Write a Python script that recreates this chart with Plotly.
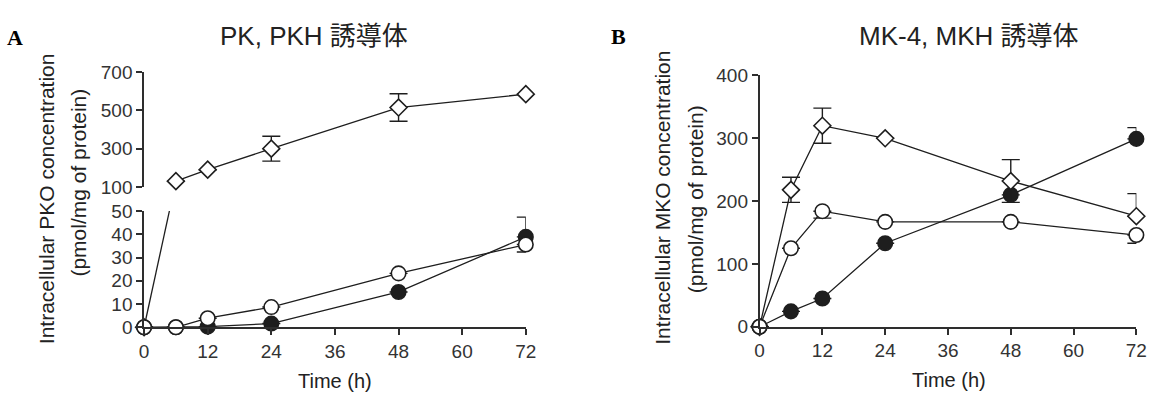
import plotly.graph_objects as go

# ---------------- data ----------------
time_h = [0, 6, 12, 24, 48, 72]
x_ticks = [0, 12, 24, 36, 48, 60, 72]

# Panel A (PK, PKH derivatives)
A_diamond = [0, 130, 190, 300, 515, 585]
A_diamond_err_plus = [None, None, None, 65, 72, None]
A_diamond_err_minus = [None, None, None, 65, 72, None]
A_filled = [0, 0, 0.3, 1.6, 15.2, 38.9]
A_filled_err_plus = [None, None, None, None, None, 8.5]
A_filled_err_minus = [None, None, None, None, None, 0]
A_open = [0, 0, 3.9, 8.7, 23.2, 35.6]
A_open_err_plus = [None, None, None, None, None, 0]
A_open_err_minus = [None, None, None, None, None, 3.2]
A_top_ticks = [100, 300, 500, 700]
A_bot_ticks = [0, 10, 20, 30, 40, 50]
A_top_range = [100, 700]
A_bot_range = [0, 50]

# Panel B (MK-4, MKH derivatives)
B_diamond = [0, 218, 320, 300, 232, 176]
B_diamond_err_plus = [None, 20, 28, None, 34, 36]
B_diamond_err_minus = [None, 20, 28, None, 34, 0]
B_filled = [0, 24.6, 45, 133, 210, 299]
B_filled_err_plus = [None, None, None, None, None, 18]
B_filled_err_minus = [None, None, None, None, None, 0]
B_open = [0, 125, 184, 167, 167, 146]
B_open_err_plus = [None, None, 0, None, None, 0]
B_open_err_minus = [None, None, 11, None, None, 13]
B_ticks = [0, 100, 200, 300, 400]
B_range = [0, 400]

title_A = "PK, PKH 誘導体"
title_B = "MK-4, MKH 誘導体"
ytitle_A = ["Intracellular PKO concentration", "(pmol/mg of protein)"]
ytitle_B = ["Intracellular MKO concentration", "(pmol/mg of protein)"]
xtitle = "Time (h)"

# ---------------- layout geometry ----------------
W, H = 1174, 408
def fx(p):
    return p / W
def fy(p):
    return 1 - p / H

A_x_dom = [fx(141), fx(528)]
A_bot_dom = [fy(334.5), fy(212)]
A_top_dom = [fy(186.5), fy(65.5)]
B_x_dom = [fx(765), fx(1147)]
B_y_dom = [fy(334), fy(69)]

INK = "#1e1e1e"
AXC = "#2e2e2e"
FONT = "Liberation Sans, Arial, Noto Sans CJK JP, sans-serif"

fig = go.Figure()

def err(plus, minus):
    return dict(type="data", symmetric=False, array=plus, arrayminus=minus,
                color=INK, thickness=1.4, width=9)

def series(x, y, xa, ya, symbol, fill, size, ep=None, em=None, mode="lines+markers"):
    kw = {}
    if ep is not None:
        kw["error_y"] = err(ep, em)
    fig.add_trace(go.Scatter(
        x=x, y=y, xaxis=xa, yaxis=ya, mode=mode, cliponaxis=False,
        line=dict(color=INK, width=1.3),
        marker=dict(symbol=symbol, size=size, color=fill,
                    line=dict(color=INK, width=1.6)),
        showlegend=False, **kw))

# ---- Panel A: split diamond series over the broken axis ----
top_idx = [i for i, v in enumerate(A_diamond) if v >= A_top_range[0]]
bot_idx = [i for i, v in enumerate(A_diamond) if v < A_top_range[0]]

def top_to_paper(v):
    return A_top_dom[0] + (v - A_top_range[0]) / (A_top_range[1] - A_top_range[0]) * (A_top_dom[1] - A_top_dom[0])
def paper_to_bot(p):
    return A_bot_range[0] + (p - A_bot_dom[0]) / (A_bot_dom[1] - A_bot_dom[0]) * (A_bot_range[1] - A_bot_range[0])
def bot_to_paper(v):
    return A_bot_dom[0] + (v - A_bot_range[0]) / (A_bot_range[1] - A_bot_range[0]) * (A_bot_dom[1] - A_bot_dom[0])
def paper_to_top(p):
    return A_top_range[0] + (p - A_top_dom[0]) / (A_top_dom[1] - A_top_dom[0]) * (A_top_range[1] - A_top_range[0])

# connector (straight line in screen space, crossing the axis break)
i0, i1 = bot_idx[-1], top_idx[0]
x0, x1 = time_h[i0], time_h[i1]
fig.add_trace(go.Scatter(x=[x0, x1], y=[A_diamond[i0], paper_to_bot(top_to_paper(A_diamond[i1]))],
                         xaxis="x", yaxis="y", mode="lines", line=dict(color=INK, width=1.3),
                         showlegend=False))
fig.add_trace(go.Scatter(x=[x0, x1], y=[paper_to_top(bot_to_paper(A_diamond[i0])), A_diamond[i1]],
                         xaxis="x2", yaxis="y2", mode="lines", line=dict(color=INK, width=1.3),
                         showlegend=False))

# bottom panel A
series(time_h, A_filled, "x", "y", "circle", INK, 14.5, A_filled_err_plus, A_filled_err_minus)
series([time_h[i] for i in bot_idx], [A_diamond[i] for i in bot_idx], "x", "y", "diamond", "white", 13, mode="markers")
series(time_h, A_open, "x", "y", "circle", "white", 14.5, A_open_err_plus, A_open_err_minus)
# top panel A
series([time_h[i] for i in top_idx], [A_diamond[i] for i in top_idx], "x2", "y2", "diamond", "white", 13,
       [A_diamond_err_plus[i] for i in top_idx], [A_diamond_err_minus[i] for i in top_idx])

# Panel B
series(time_h, B_filled, "x3", "y3", "circle", INK, 14.5, B_filled_err_plus, B_filled_err_minus)
series(time_h, B_diamond, "x3", "y3", "diamond", "white", 13, B_diamond_err_plus, B_diamond_err_minus)
series(time_h, B_open, "x3", "y3", "circle", "white", 14.5, B_open_err_plus, B_open_err_minus)

axis_common = dict(showline=True, linecolor=AXC, linewidth=1.6, ticks="outside", ticklen=6,
                   tickwidth=1.5, tickcolor=AXC, showgrid=False, zeroline=False,
                   tickfont=dict(family=FONT, size=19, color="#333333"), fixedrange=True)

fig.update_layout(
    width=W, height=H, margin=dict(l=0, r=0, t=0, b=0),
    paper_bgcolor="white", plot_bgcolor="white",
    xaxis=dict(domain=A_x_dom, range=[0, 72], tickvals=x_ticks, anchor="y", **axis_common),
    yaxis=dict(domain=A_bot_dom, range=A_bot_range, tickvals=A_bot_ticks, anchor="x", **axis_common),
    xaxis2=dict(domain=A_x_dom, range=[0, 72], anchor="y2", visible=False, matches="x"),
    yaxis2=dict(domain=A_top_dom, range=A_top_range, tickvals=A_top_ticks, anchor="x2", **axis_common),
    xaxis3=dict(domain=B_x_dom, range=[0, 72], tickvals=x_ticks, anchor="y3", **axis_common),
    yaxis3=dict(domain=B_y_dom, range=B_range, tickvals=B_ticks, anchor="x3", **axis_common),
)

ann = []
def text(x, y, s, size, angle=0, family=FONT, xanchor="center", color="#222222"):
    ann.append(dict(x=fx(x), y=fy(y), xref="paper", yref="paper", text=s, showarrow=False,
                    textangle=angle, xanchor=xanchor, yanchor="middle",
                    font=dict(family=family, size=size, color=color)))

text(313.5, 27, title_A, 26)
text(977, 27, title_B, 26)
text(0, 29, "<b>A</b>", 22, family="Liberation Serif, Times New Roman, serif", xanchor="left", color="#000")
text(622, 28, "<b>B</b>", 22, family="Liberation Serif, Times New Roman, serif", color="#000")
text(42, 199, ytitle_A[0], 21, angle=-90)
text(75, 182, ytitle_A[1], 21, angle=-90)
text(667, 198, ytitle_B[0], 21, angle=-90)
text(700, 199, ytitle_B[1], 21, angle=-90)
text(335, 391, xtitle, 20)
text(957, 390, xtitle, 20)
fig.update_layout(annotations=ann)

fig.write_html("out.html")
